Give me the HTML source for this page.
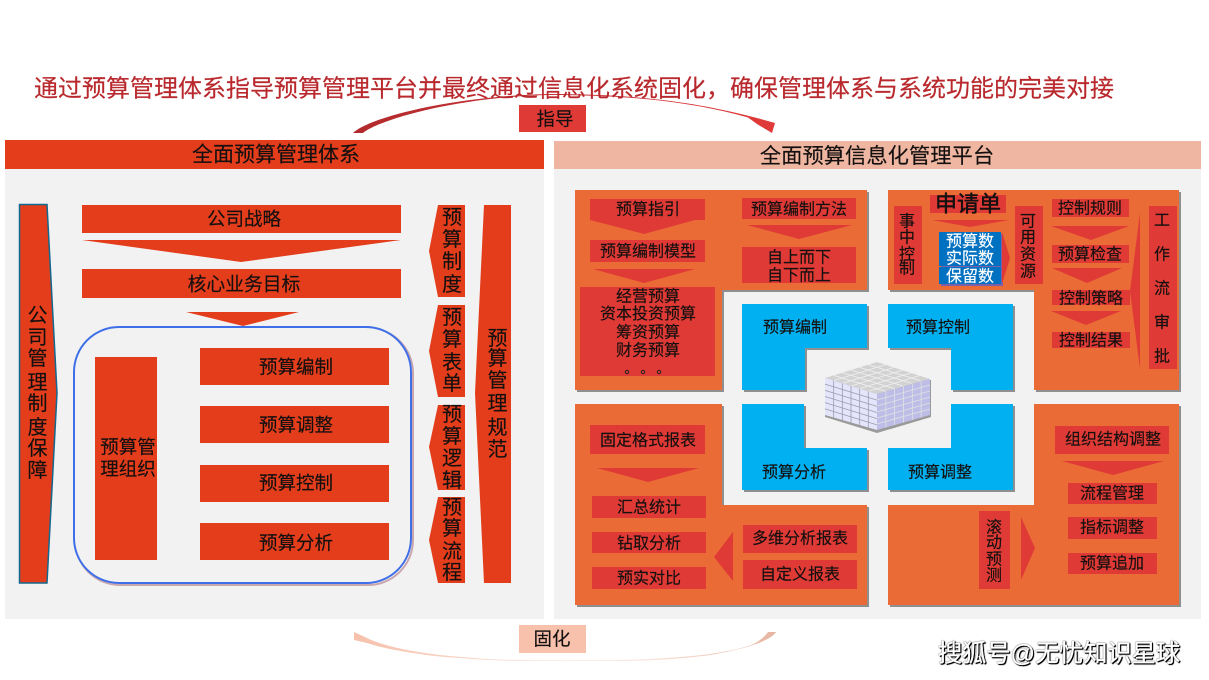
<!DOCTYPE html>
<html><head><meta charset="utf-8">
<style>
html,body{margin:0;padding:0;background:#fff;width:1209px;height:680px;overflow:hidden}
svg{display:block}
text{font-family:"Liberation Sans","Noto Sans CJK SC",sans-serif;fill:#141010;text-anchor:middle;dominant-baseline:central;transform:translateY(1px);stroke:#141010;stroke-width:.15}
.r{fill:#e33d1b}.b{fill:#df3a35}.o{fill:#ea6b36}.c{fill:#00b0f0}.s{fill:#8f8f8f}
</style></head><body>
<svg width="1209" height="680" viewBox="0 0 1209 680" xmlns="http://www.w3.org/2000/svg">
<defs>
<linearGradient id="g1" x1="0" x2="1" y1="0" y2="0"><stop offset="0" stop-color="#b22a2c"/><stop offset=".5" stop-color="#c8343a"/><stop offset="1" stop-color="#e03a3a"/></linearGradient>
<linearGradient id="g2" x1="0" x2="1" y1="0" y2="0"><stop offset="0" stop-color="#f6c1ac"/><stop offset=".3" stop-color="#f9d8cb"/><stop offset=".5" stop-color="#fdf1ec"/><stop offset=".7" stop-color="#f9e2d9"/><stop offset="1" stop-color="#e6b5a0"/></linearGradient>
</defs>
<rect width="1209" height="680" fill="#fff"/>
<!-- top title & arrows -->
<path d="M353 133C368 118 450 96 550 94C640 94 700 103 757 118L775 123L772 133L757 124L748 117.500C700 104 640 95 550 95C450 97 375 122 363 133Z" fill="url(#g1)"/>
<text x="574" y="88" font-size="24" style="fill:#b8282c;stroke:#b8282c" textLength="1080" lengthAdjust="spacingAndGlyphs">通过预算管理体系指导预算管理平台并最终通过信息化系统固化，确保管理体系与系统功能的完美对接</text>
<rect x="519" y="105" width="67" height="27" class="b"/>
<text x="555" y="118" font-size="18.5">指导</text>
<!-- panels -->
<rect x="5" y="169" width="539" height="450" fill="#f2f2f2"/>
<rect x="5" y="140" width="539" height="29" class="r"/>
<text x="276" y="154" font-size="21">全面预算管理体系</text>
<rect x="554" y="169" width="647" height="450" fill="#f2f2f2"/>
<rect x="554" y="141" width="647" height="28" fill="#efb7a1"/>
<text x="877" y="155" font-size="21.3">全面预算信息化管理平台</text>
<!-- bottom arrow -->
<path d="M354 632L367 638C385 647 415 652 440 655C470 658 490 659.500 517 660L617 660C650 659.500 680 657.500 707 654.500C730 651 750 647 757 642C762 639 766 635 768 632L776 632C770 642 740 650 707 655.500C670 660 640 661 617 661L517 661C480 660 450 657.500 430 655.500C405 652 385 649 367 643L354 640Z" fill="url(#g2)"/>
<rect x="519" y="625" width="67" height="28" fill="#f7c1ab"/>
<text x="552" y="638" font-size="18.5">固化</text>
<!-- left panel -->
<path d="M19.500 204.500H47L57 393L47 583H19.500Z" class="r" stroke="#12688f" stroke-width="1.500"/>
<g font-size="20">
<text x="37.500" y="315">公</text><text x="37.500" y="337">司</text><text x="37.500" y="358">管</text><text x="37.500" y="382">理</text><text x="37.500" y="403">制</text><text x="37.500" y="427">度</text><text x="37.500" y="448">保</text><text x="37.500" y="470">障</text>
</g>
<rect x="82" y="205" width="319" height="28" class="r"/>
<polygon points="82,240 401,240 241,262" class="r"/>
<rect x="82" y="269" width="319" height="29" class="r"/>
<polygon points="186,312 299,312 243,326" class="r"/>
<text x="244" y="218" font-size="18.500">公司战略</text>
<text x="244" y="283" font-size="18.800">核心业务目标</text>
<rect x="75" y="328" width="338" height="257" rx="45" fill="none" stroke="#c9a6ad" stroke-width="2"/>
<rect x="74" y="327" width="337" height="256" rx="45" fill="#f2f2f2" stroke="#3f6fe8" stroke-width="2"/>
<rect x="95" y="357" width="62" height="203" class="r"/>
<text x="128" y="446" font-size="18.500">预算管</text>
<text x="128" y="468" font-size="18.500">理组织</text>
<rect x="200" y="348" width="189" height="37" class="r"/>
<rect x="200" y="406" width="189" height="37" class="r"/>
<rect x="200" y="465" width="189" height="37" class="r"/>
<rect x="200" y="523" width="189" height="37" class="r"/>
<g font-size="18.500">
<text x="296" y="366">预算编制</text><text x="296" y="424">预算调整</text><text x="296" y="482">预算控制</text><text x="296" y="542">预算分析</text>
</g>
<polygon points="438,205 465,205 465,297 438,297 429,251" class="r"/>
<polygon points="438,305 465,305 465,397 438,397 429,351" class="r"/>
<polygon points="438,405 465,405 465,490 438,490 429,447" class="r"/>
<polygon points="438,497 465,497 465,583 438,583 429,540" class="r"/>
<polygon points="484,205 511,205 511,583 484,583 475,393" class="r"/>
<g font-size="20">
<text x="452" y="217">预</text><text x="452" y="239">算</text><text x="452" y="261">制</text><text x="452" y="284">度</text>
<text x="452" y="317">预</text><text x="452" y="339">算</text><text x="452" y="362">表</text><text x="452" y="383">单</text>
<text x="452" y="414">预</text><text x="452" y="436">算</text><text x="452" y="458">逻</text><text x="452" y="480">辑</text>
<text x="452" y="507">预</text><text x="452" y="528">算</text><text x="452" y="551">流</text><text x="452" y="572">程</text>
<text x="497.500" y="338">预</text><text x="497.500" y="358">算</text><text x="497.500" y="380">管</text><text x="497.500" y="403">理</text><text x="497.500" y="427">规</text><text x="497.500" y="449">范</text>
</g>
<!-- orange shapes shadows -->
<g transform="translate(2,2)" class="s">
<polygon points="575,190 867,190 867,290 722,290 722,390 575,390"/>
<polygon points="888,190 1179,190 1179,390 1034,390 1034,290 888,290"/>
<polygon points="575,404 722,404 722,505 867,505 867,605 575,605"/>
<polygon points="1034,404 1179,404 1179,605 888,605 888,505 1034,505"/>
<polygon points="742,304 867,304 867,348 805,348 805,390 742,390"/>
<polygon points="888,304 1013,304 1013,390 951,390 951,348 888,348"/>
<polygon points="742,404 804,404 804,448 867,448 867,490 742,490"/>
<polygon points="951,404 1013,404 1013,490 888,490 888,448 951,448"/>
</g>
<polygon class="o" points="575,190 867,190 867,290 722,290 722,390 575,390"/>
<polygon class="o" points="888,190 1179,190 1179,390 1034,390 1034,290 888,290"/>
<polygon class="o" points="575,404 722,404 722,505 867,505 867,605 575,605"/>
<polygon class="o" points="1034,404 1179,404 1179,605 888,605 888,505 1034,505"/>
<polygon class="c" points="742,304 867,304 867,348 805,348 805,390 742,390"/>
<polygon class="c" points="888,304 1013,304 1013,390 951,390 951,348 888,348"/>
<polygon class="c" points="742,404 804,404 804,448 867,448 867,490 742,490"/>
<polygon class="c" points="951,404 1013,404 1013,490 888,490 888,448 951,448"/>
<!-- TL content -->
<polygon class="b" points="590,199 705,199 705,220 695,220 644,234 590,220"/>
<rect class="b" x="590" y="240" width="115" height="22"/>
<polygon class="b" points="593,269 695,269 644,283"/>
<rect class="b" x="580" y="287" width="135" height="89"/>
<rect class="b" x="742" y="198" width="114" height="21"/>
<polygon class="b" points="747,225 852,225 799,239"/>
<rect class="b" x="742" y="247" width="114" height="36"/>
<g font-size="16">
<text x="648" y="209">预算指引</text><text x="648" y="251">预算编制模型</text>
<text x="648" y="296">经营预算</text><text x="648" y="313.500">资本投资预算</text><text x="648" y="332">筹资预算</text><text x="648" y="350">财务预算</text>
<text x="799" y="209">预算编制方法</text><text x="799" y="257">自上而下</text><text x="799" y="275">自下而上</text>
<text x="795" y="327">预算编制</text><text x="938" y="327">预算控制</text><text x="794" y="472">预算分析</text><text x="940" y="472">预算调整</text>
</g>
<circle cx="627" cy="372" r="1.700" fill="none" stroke="#222" stroke-width="1"/><circle cx="643" cy="372" r="1.700" fill="none" stroke="#222" stroke-width="1"/><circle cx="659" cy="372" r="1.700" fill="none" stroke="#222" stroke-width="1"/>
<!-- TR content -->
<rect class="b" x="894" y="206" width="28" height="78"/>
<rect class="b" x="930" y="195" width="76" height="18"/>
<polygon class="b" points="932,220 1009,220 970,227"/>
<rect x="941" y="234" width="62" height="52" fill="#7b5fa8"/>
<rect x="939" y="232" width="62" height="34" fill="#0070c0"/>
<rect x="939" y="267" width="62" height="17" fill="#0070c0"/>
<polygon class="b" points="1002,232 1010,258 1002,284"/>
<rect class="b" x="1015" y="206" width="28" height="78"/>
<rect class="b" x="1052" y="199" width="77" height="18"/>
<polygon class="b" points="1051,226 1129,226 1091,240"/>
<rect class="b" x="1052" y="245" width="77" height="18"/>
<polygon class="b" points="1052,268 1122,268 1087,283"/>
<rect class="b" x="1052" y="290" width="78" height="15"/>
<polygon class="b" points="1051,311 1121,311 1086,325"/>
<rect class="b" x="1052" y="332" width="78" height="16"/>
<polygon class="b" points="1140,213 1140,369 1130,291"/>
<rect class="b" x="1149" y="206" width="28" height="163"/>
<text x="968" y="203" font-size="22" style="stroke-width:.5">申请单</text>
<g font-size="16">
<text x="907" y="221">事</text><text x="907" y="237">中</text><text x="907" y="254">控</text><text x="907" y="268">制</text>
<text x="1028" y="221">可</text><text x="1028" y="237">用</text><text x="1028" y="254">资</text><text x="1028" y="271">源</text>
<text x="970" y="241" style="fill:#fff;stroke:#fff">预算数</text><text x="970" y="258" style="fill:#fff;stroke:#fff">实际数</text><text x="970" y="276" style="fill:#fff;stroke:#fff">保留数</text>
<text x="1090" y="208">控制规则</text><text x="1090" y="254">预算检查</text><text x="1091" y="298">控制策略</text><text x="1091" y="340">控制结果</text>
<text x="1162" y="220">工</text><text x="1162" y="254">作</text><text x="1162" y="288">流</text><text x="1162" y="322">审</text><text x="1162" y="356">批</text>
</g>
<!-- BL content -->
<rect class="b" x="590" y="425" width="115" height="29"/>
<polygon class="b" points="597,468 699,468 648,482"/>
<rect class="b" x="592" y="496" width="114" height="22"/>
<rect class="b" x="592" y="532" width="114" height="21"/>
<rect class="b" x="592" y="567" width="114" height="22"/>
<rect class="b" x="743" y="525" width="114" height="28"/>
<rect class="b" x="743" y="560" width="114" height="29"/>
<polygon class="b" points="714,557 733,532 733,581"/>
<g font-size="16">
<text x="648" y="440">固定格式报表</text><text x="649" y="507">汇总统计</text><text x="649" y="543">钻取分析</text><text x="649" y="578">预实对比</text>
<text x="800" y="538">多维分析报表</text><text x="800" y="574">自定义报表</text>
</g>
<!-- BR content -->
<rect class="b" x="1055" y="426" width="114" height="28"/>
<polygon class="b" points="1062,461 1164,461 1113,475"/>
<rect class="b" x="1068" y="483" width="89" height="21"/>
<rect class="b" x="1068" y="517" width="89" height="22"/>
<rect class="b" x="1068" y="553" width="89" height="21"/>
<rect class="b" x="979" y="511" width="31" height="78"/>
<polygon class="b" points="1021,517 1035,548 1021,580"/>
<g font-size="16">
<text x="1113" y="439">组织结构调整</text><text x="1112" y="493">流程管理</text><text x="1112" y="527">指标调整</text><text x="1112" y="563">预算追加</text>
<text x="994" y="527">滚</text><text x="994" y="542">动</text><text x="994" y="559">预</text><text x="994" y="575">测</text>
</g>
<!-- cube -->
<polygon points="825,417 877,433 931,417 931,380 825,380" fill="#9a9a9a"/>
<polygon points="825,378 877,362 930,379 877,394" fill="#d2d2d2"/>
<g transform="matrix(52 -16 52 16 825 378)" fill="none" stroke="#f0f0f0" stroke-width=".8"><path vector-effect="non-scaling-stroke" d="M.167 0V1M.333 0V1M.5 0V1M.667 0V1M.833 0V1M0 .167H1M0 .333H1M0 .5H1M0 .667H1M0 .833H1"/></g>
<polygon points="825,378 877,394 877,430 825,415" fill="#e4e4fb"/>
<g transform="matrix(52 16 0 37 825 378)" fill="none" stroke="#9c9cac" stroke-width=".8"><path vector-effect="non-scaling-stroke" d="M.167 0V1M.333 0V1M.5 0V1M.667 0V1M.833 0V1M0 .167H1M0 .333H1M0 .5H1M0 .667H1M0 .833H1"/></g>
<polygon points="877,394 930,379 930,415 877,430" fill="#bdbde8"/>
<g transform="matrix(53 -15 0 36 877 394)" fill="none" stroke="#e2e2e2" stroke-width=".8"><path vector-effect="non-scaling-stroke" d="M.167 0V1M.333 0V1M.5 0V1M.667 0V1M.833 0V1M0 .167H1M0 .333H1M0 .5H1M0 .667H1M0 .833H1"/></g>
<!-- watermark -->
<text x="1059" y="653" font-size="24.500" textLength="242" lengthAdjust="spacingAndGlyphs" style="fill:#fff;stroke:#fff;stroke-width:.3;filter:drop-shadow(1px 1px 0px #000) drop-shadow(0 0 .5px #222)">搜狐号@无忧知识星球</text>
</svg>
</body></html>
